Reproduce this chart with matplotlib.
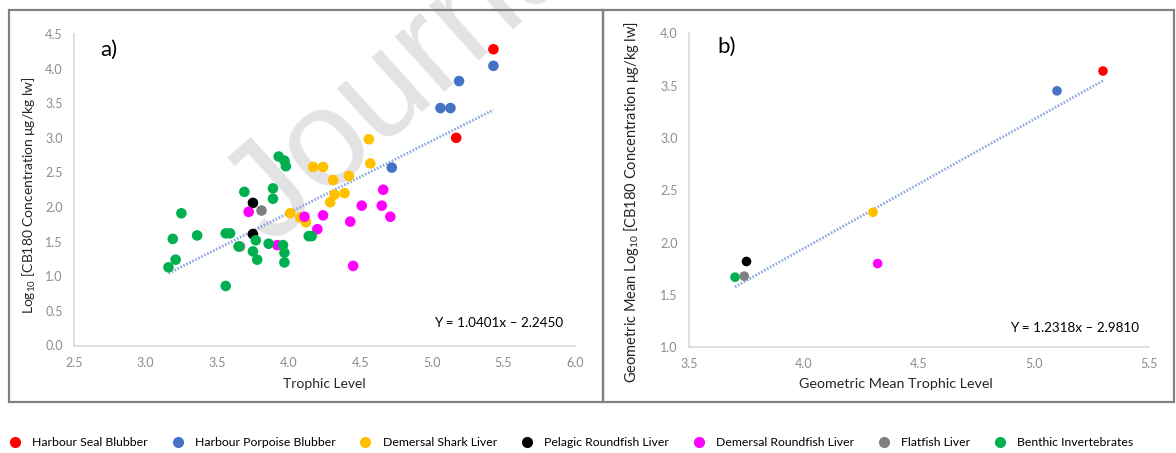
import matplotlib

matplotlib.use("Agg")
import matplotlib.pyplot as plt
from matplotlib.lines import Line2D
from matplotlib.patches import Rectangle
import numpy as np

plt.rcParams["font.family"] = ["Lato", "DejaVu Sans"]
plt.rcParams["mathtext.default"] = "regular"

# series names and colours (legend order)
groups = ["Harbour Seal Blubber", "Harbour Porpoise Blubber", "Demersal Shark Liver",
          "Pelagic Roundfish Liver", "Demersal Roundfish Liver", "Flatfish Liver",
          "Benthic Invertebrates"]
colors = ["#ff0000", "#4472c4", "#ffc000", "#000000", "#ff00ff", "#808080", "#00b050"]

# panel a) individual samples: trophic level / log10 CB180
seal_tl = [5.43, 5.17]
seal_c = [4.28, 3.00]
porpoise_tl = [5.43, 5.19, 5.06, 5.13, 4.72]
porpoise_c = [4.04, 3.82, 3.43, 3.43, 2.57]
shark_tl = [4.56, 4.57, 4.17, 4.24, 4.31, 4.42, 4.32, 4.39, 4.29, 4.01, 4.08, 4.12]
shark_c = [2.98, 2.63, 2.58, 2.58, 2.39, 2.45, 2.18, 2.20, 2.07, 1.91, 1.85, 1.78]
pelagic_tl = [3.75, 3.75]
pelagic_c = [2.06, 1.61]
demrf_tl = [3.72, 3.92, 4.11, 4.20, 4.24, 4.43, 4.51, 4.65, 4.66, 4.71, 4.45]
demrf_c = [1.93, 1.45, 1.86, 1.68, 1.88, 1.79, 2.02, 2.02, 2.25, 1.86, 1.15]
flat_tl = [3.81, 3.66]
flat_c = [1.95, 1.43]
benthic_tl = [3.93, 3.97, 3.98, 3.69, 3.89, 3.89, 3.25, 3.19, 3.36, 3.56, 3.59, 3.77,
              3.65, 3.86, 3.96, 3.97, 3.75, 3.78, 3.21, 3.16, 3.97, 3.56, 4.14, 4.16]
benthic_c = [2.73, 2.67, 2.59, 2.22, 2.27, 2.12, 1.91, 1.54, 1.59, 1.62, 1.62, 1.52,
             1.43, 1.47, 1.45, 1.34, 1.36, 1.24, 1.24, 1.13, 1.20, 0.86, 1.58, 1.58]

# panel b) geometric means per group (legend order)
gm_tl = [5.30, 5.10, 4.30, 3.75, 4.32, 3.74, 3.70]
gm_c = [3.64, 3.45, 2.29, 1.82, 1.80, 1.68, 1.67]

# regression lines: slope, intercept, x range
fit_a = (1.0401, -2.2450, 3.16, 5.43)
fit_b = (1.2318, -2.9810, 3.70, 5.30)

xticks_a = [2.5, 3.0, 3.5, 4.0, 4.5, 5.0, 5.5, 6.0]
yticks_a = [0.0, 0.5, 1.0, 1.5, 2.0, 2.5, 3.0, 3.5, 4.0, 4.5]
xticks_b = [3.5, 4.0, 4.5, 5.0, 5.5]
yticks_b = [1.0, 1.5, 2.0, 2.5, 3.0, 3.5, 4.0]

W, H = 1176, 453
fig = plt.figure(figsize=(W / 100, H / 100), dpi=100)
fig.patch.set_facecolor("white")


def px_axes(x0, x1, ytop, ybot):
    return fig.add_axes([x0 / W, 1 - ybot / H, (x1 - x0) / W, (ybot - ytop) / H])


ax1 = px_axes(74, 575, 34, 345.5)
ax2 = px_axes(689, 1149, 33.3, 347.3)

panel_a = list(zip([seal_tl, porpoise_tl, shark_tl, pelagic_tl, demrf_tl, flat_tl, benthic_tl],
                   [seal_c, porpoise_c, shark_c, pelagic_c, demrf_c, flat_c, benthic_c]))
for (x, y), c in zip(panel_a, colors):
    ax1.scatter(x, y, s=58, color=c, edgecolors="none", zorder=3)

for x, y, c in zip(gm_tl, gm_c, colors):
    ax2.scatter(x, y, s=48, color=c, edgecolors="none", zorder=3)

for ax, (m, b, xa, xb) in [(ax1, fit_a), (ax2, fit_b)]:
    xs = np.array([xa, xb])
    ax.plot(xs, m * xs + b, color="#8eaadb", lw=2.0, ls=(0, (0.6, 0.6)), zorder=2)

ax1.set_xlim(2.5, 6.0)
ax1.set_ylim(0, 4.5)
ax1.set_xticks(xticks_a, [f"{v:.1f}" for v in xticks_a])
ax1.set_yticks(yticks_a, [f"{v:.1f}" for v in yticks_a])
ax2.set_xlim(3.5, 5.5)
ax2.set_ylim(1.0, 4.0)
ax2.set_xticks(xticks_b, [f"{v:.1f}" for v in xticks_b])
ax2.set_yticks(yticks_b, [f"{v:.1f}" for v in yticks_b])

for ax in (ax1, ax2):
    ax.set_facecolor("none")
    for s in ("top", "right"):
        ax.spines[s].set_visible(False)
    for s in ("left", "bottom"):
        ax.spines[s].set_color("#d9d9d9")
        ax.spines[s].set_linewidth(1.2)
    ax.tick_params(length=0, labelsize=9, labelcolor="#8c8c8c", pad=8)

ax1.set_xlabel("Trophic Level", fontsize=10, color="#262626")
ax1.xaxis.set_label_coords(0.5, -0.104)
ax1.set_ylabel("Log$_{10}$ [CB180 Concentration μg/kg lw]", fontsize=10, color="#262626")
ax1.yaxis.set_label_coords(-0.072, 0.483)
ax2.set_xlabel("Geometric Mean Trophic Level", fontsize=10.3, color="#262626")
ax2.xaxis.set_label_coords(0.45, -0.098)
ax2.set_ylabel("Geometric Mean Log$_{10}$ [CB180 Concentration μg/kg lw]", fontsize=10.5,
               color="#262626")
ax2.yaxis.set_label_coords(-0.104, 0.464)

ax1.text(0.052, 0.949, "a)", transform=ax1.transAxes, fontsize=16, va="center")
ax2.text(0.061, 0.956, "b)", transform=ax2.transAxes, fontsize=16, va="center")
ax1.text(0.976, 0.072, "Y = 1.0401x – 2.2450", transform=ax1.transAxes, fontsize=9.7,
         ha="right", va="center")
ax2.text(0.978, 0.061, "Y = 1.2318x – 2.9810", transform=ax2.transAxes, fontsize=9.7,
         ha="right", va="center")

# watermark
fig.text(272 / W, 1 - 247 / H, "Journal Pre-proof", rotation=42, rotation_mode="anchor",
         ha="left", va="baseline", fontsize=100, color="#e3e3e3", family="Liberation Sans",
         zorder=-1)

# panel frames
for x0, x1 in [(9, 603), (603, 1174)]:
    fig.patches.append(Rectangle((x0 / W, 1 - 402 / H), (x1 - x0) / W, 392 / H,
                                 transform=fig.transFigure, fill=False,
                                 edgecolor="#808080", lw=1.6))

handles = [Line2D([], [], ls="none", marker="o", markersize=8, color=c, markeredgewidth=0)
           for c in colors]
fig.legend(handles, groups, loc="center left", bbox_to_anchor=(4 / W, 1 - 443 / H),
           ncol=7, frameon=False, fontsize=8.8, handlelength=1.0, handletextpad=0.9,
           columnspacing=1.95, borderaxespad=0)

plt.savefig("out.png", dpi=100)
plt.close()
